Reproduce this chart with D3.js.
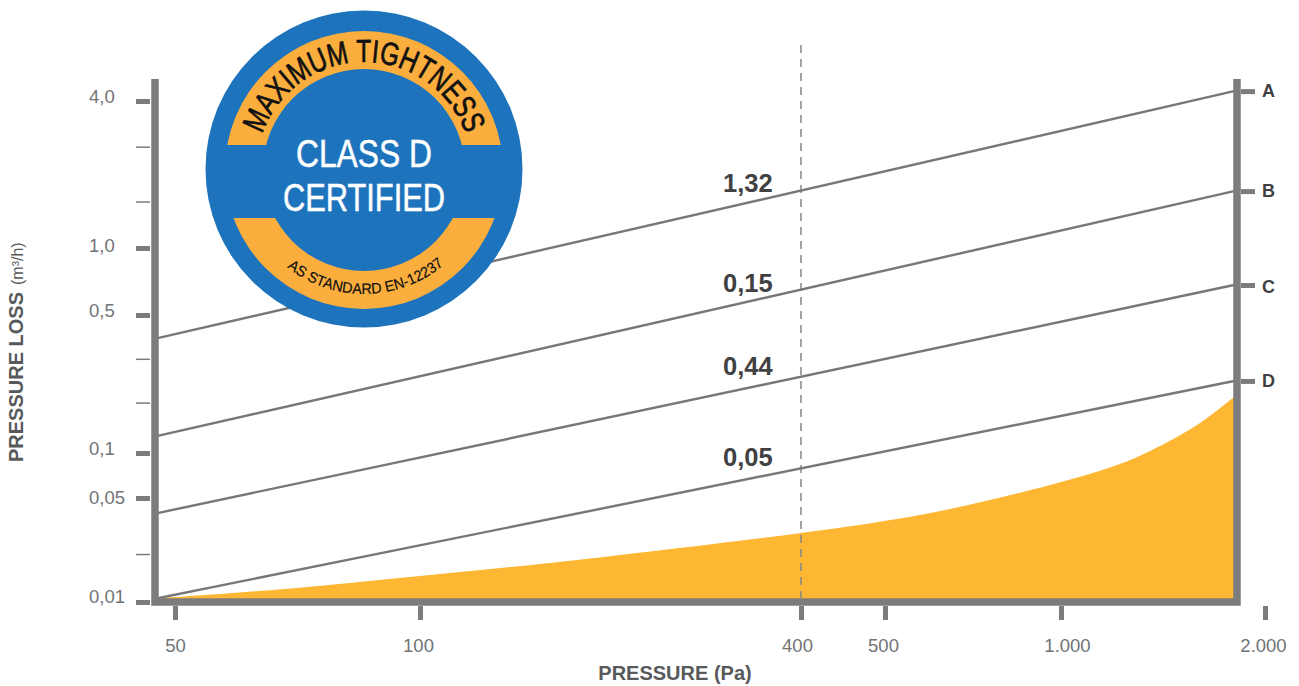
<!DOCTYPE html>
<html>
<head>
<meta charset="utf-8">
<script src="https://cdn.jsdelivr.net/npm/d3@7"></script>
<style>
  html, body { margin: 0; background: #fff; }
  svg { display: block; }
  text { font-family: "Liberation Sans", Arial, sans-serif; }
</style>
</head>
<body>
<svg id="chart"></svg>
<script>
// tick positions, the axes are not a true log scale
const xTicks = [50, 100, 400, 500, 1000, 2000];
const xTickLabels = ["50", "100", "400", "500", "1.000", "2.000"];
const yTicks = [0.01, 0.05, 0.1, 0.5, 1, 4];
const yTickLabels = ["0,01", "0,05", "0,1", "0,5", "1,0", "4,0"];
const yMinorTicks = [0.021, 0.18, 0.3, 1.55, 2.6];

// lines A-D, straight from left edge to right edge of the frame
const lineNames = ["A", "B", "C", "D"];
const lineRates = ["1,32", "0,15", "0,44", "0,05"];
const lineStartLoss = [0.382, 0.122, 0.0396, 0.0106];
const lineEndLoss = [4.39, 1.71, 0.682, 0.2317];
const linePressure = [47.6, 1800];

const markerPressure = 400;

// filled curve
const areaPressure = [48.3, 68.3, 100, 160.5, 231, 400, 487, 646, 958, 1210, 1353, 1604, 1800];
const areaLoss = [0.01064, 0.01223, 0.01495, 0.0183, 0.02186, 0.0291, 0.0342, 0.0422, 0.0611, 0.0831, 0.1023, 0.1419, 0.192];

const svg_width = 1299, svg_height = 686;
const frame = { left: 155, right: 1237, top: 79, bottom: 602 };
const axisColor = "#7c7c7f", lineColor = "#77777a", textColor = "#727376", darkText = "#414042";
const orange = "#fdb733", blue = "#1e74bc", badgeOrange = "#fbae3e";

const svg = d3.select("#chart")
    .attr("width", svg_width)
    .attr("height", svg_height)
    .attr("viewBox", `0 0 ${svg_width} ${svg_height}`);

const x = d3.scaleLog().domain(xTicks).range([175, 420, 801, 885, 1061, 1265]);
const y = d3.scaleLog().domain(yTicks).range([602, 498, 453, 315, 248, 101]);

// filled curve first, the frame sits on top of it
const area = d3.area()
    .x((d, i) => x(areaPressure[i]))
    .y0(y(0.01))
    .y1(d => y(d))
    .curve(d3.curveCatmullRom);

svg.append("path")
    .datum(areaLoss)
    .attr("fill", orange)
    .attr("d", area);

// dashed marker
svg.append("line")
    .attr("x1", x(markerPressure)).attr("x2", x(markerPressure))
    .attr("y1", 45).attr("y2", 598)
    .attr("stroke", "#85868a")
    .attr("stroke-width", 1.5)
    .attr("stroke-dasharray", "8 6");

// lines
const line = d3.line().x(d => x(d[0])).y(d => y(d[1]));
lineNames.forEach((name, i) => {
    svg.append("path")
        .datum([[linePressure[0], lineStartLoss[i]], [linePressure[1], lineEndLoss[i]]])
        .attr("fill", "none")
        .attr("stroke", lineColor)
        .attr("stroke-width", 2.4)
        .attr("d", line);
});

// rate labels sit just above their line
const rateNudge = [-16, -15, -18, -18];
lineRates.forEach((rate, i) => {
    const y0 = y(lineStartLoss[i]), y1 = y(lineEndLoss[i]);
    const x0 = x(linePressure[0]), x1 = x(linePressure[1]);
    const labelX = 723;
    svg.append("text")
        .attr("x", labelX)
        .attr("y", y0 + (y1 - y0) * (labelX - x0) / (x1 - x0) + rateNudge[i])
        .attr("font-size", 25.5)
        .attr("font-weight", "bold")
        .attr("fill", darkText)
        .text(rate);
});

// frame
svg.append("path")
    .attr("d", `M${frame.left},${frame.top}V${frame.bottom}H${frame.right}V${frame.top}`)
    .attr("fill", "none")
    .attr("stroke", axisColor)
    .attr("stroke-width", 7.5);

// axes, only the ticks and labels, the frame is the domain line
const yAxis = svg.append("g")
    .attr("transform", `translate(150,0)`)
    .call(d3.axisLeft(y).tickValues(yTicks).tickSize(14).tickFormat((d, i) => yTickLabels[i]));
const yMinor = svg.append("g")
    .attr("transform", `translate(150,0)`)
    .call(d3.axisLeft(y).tickValues(yMinorTicks).tickSize(14).tickFormat(""));
const xAxis = svg.append("g")
    .attr("transform", `translate(0,606)`)
    .call(d3.axisBottom(x).tickValues(xTicks).tickSize(14).tickFormat((d, i) => xTickLabels[i]));
const rightAxis = svg.append("g")
    .attr("transform", `translate(1241,0)`)
    .call(d3.axisRight(y).tickValues(lineEndLoss).tickSize(14).tickFormat((d, i) => lineNames[i]));

[yAxis, yMinor, xAxis, rightAxis].forEach(g => g.select(".domain").remove());
yAxis.selectAll("line").attr("stroke", axisColor).attr("stroke-width", 5);
yMinor.selectAll("line").attr("stroke", axisColor).attr("stroke-width", 1.5);
xAxis.selectAll("line").attr("stroke", axisColor).attr("stroke-width", 5);
rightAxis.selectAll("line").attr("stroke", axisColor).attr("stroke-width", 5);

// the labels are not centred on their ticks in the original
const yLabelNudge = [-3, 2, -2, -2, 0, -2];
const xLabelNudge = [0, -2, -4, -2, 6, -2];
const rightLabelNudge = [-1, -1, 2, 0];

yAxis.selectAll("text")
    .attr("font-size", 18.5).attr("fill", textColor)
    .attr("text-anchor", "start")
    .attr("x", -61)
    .attr("dy", (d, i) => 3 + yLabelNudge[i]);
xAxis.selectAll("text")
    .attr("font-size", 18.5).attr("fill", textColor)
    .attr("x", (d, i) => xLabelNudge[i])
    .attr("y", 33)
    .attr("dy", "0.71em");
rightAxis.selectAll("text")
    .attr("font-size", 18).attr("font-weight", "bold").attr("fill", darkText)
    .attr("x", 21)
    .attr("dy", (d, i) => 6 + rightLabelNudge[i]);

// axis titles
svg.append("text")
    .attr("x", 675)
    .attr("y", 680)
    .attr("text-anchor", "middle")
    .attr("font-size", 20)
    .attr("font-weight", "bold")
    .attr("fill", "#58595b")
    .text("PRESSURE (Pa)");

const yTitle = svg.append("text")
    .attr("transform", "translate(23,462) rotate(-90)")
    .attr("fill", "#58595b");
yTitle.append("tspan").attr("font-size", 20).attr("font-weight", "bold").text("PRESSURE LOSS");
yTitle.append("tspan").attr("font-size", 16).attr("dx", 7).text("(m³/h)");

// badge
const badge = svg.append("g").attr("transform", "translate(364,170)");
badge.append("circle").attr("cy", -1).attr("r", 158.5).attr("fill", blue);

const defs = svg.append("defs");
const clip = defs.append("clipPath").attr("id", "band-clip");
clip.append("rect").attr("x", -160).attr("y", -160).attr("width", 320).attr("height", 135);
clip.append("rect").attr("x", -160).attr("y", 48).attr("width", 320).attr("height", 112);

badge.append("path")
    .attr("clip-path", "url(#band-clip)")
    .attr("fill", badgeOrange)
    .attr("d", d3.arc()({ innerRadius: 101, outerRadius: 139, startAngle: 0, endAngle: 2 * Math.PI }));

defs.append("path").attr("id", "top-arc").attr("d", "M-108,0 A108,108 0 0 1 108,0");
defs.append("path").attr("id", "bottom-arc").attr("d", "M-124,0 A124,124 0 0 0 124,0");

badge.append("text")
    .attr("font-size", 32)
    .attr("fill", "#111")
    .attr("stroke", "#111")
    .attr("stroke-width", 0.7)
    .append("textPath")
    .attr("href", "#top-arc")
    .attr("startOffset", "50%")
    .attr("text-anchor", "middle")
    .attr("textLength", 266)
    .attr("lengthAdjust", "spacingAndGlyphs")
    .text("MAXIMUM TIGHTNESS");

badge.append("text")
    .attr("font-size", 15)
    .attr("fill", "#111")
    .attr("stroke", "#111")
    .attr("stroke-width", 0.2)
    .append("textPath")
    .attr("href", "#bottom-arc")
    .attr("startOffset", "50.5%")
    .attr("text-anchor", "middle")
    .attr("textLength", 170)
    .attr("lengthAdjust", "spacingAndGlyphs")
    .text("AS STANDARD EN-12237");

badge.append("text")
    .attr("y", -3)
    .attr("text-anchor", "middle")
    .attr("font-size", 39)
    .attr("fill", "#fff")
    .attr("stroke", "#fff")
    .attr("stroke-width", 0.5)
    .attr("textLength", 136)
    .attr("lengthAdjust", "spacingAndGlyphs")
    .text("CLASS D");
badge.append("text")
    .attr("y", 41)
    .attr("text-anchor", "middle")
    .attr("font-size", 39)
    .attr("fill", "#fff")
    .attr("stroke", "#fff")
    .attr("stroke-width", 0.5)
    .attr("textLength", 162)
    .attr("lengthAdjust", "spacingAndGlyphs")
    .text("CERTIFIED");
</script>
</body>
</html>
